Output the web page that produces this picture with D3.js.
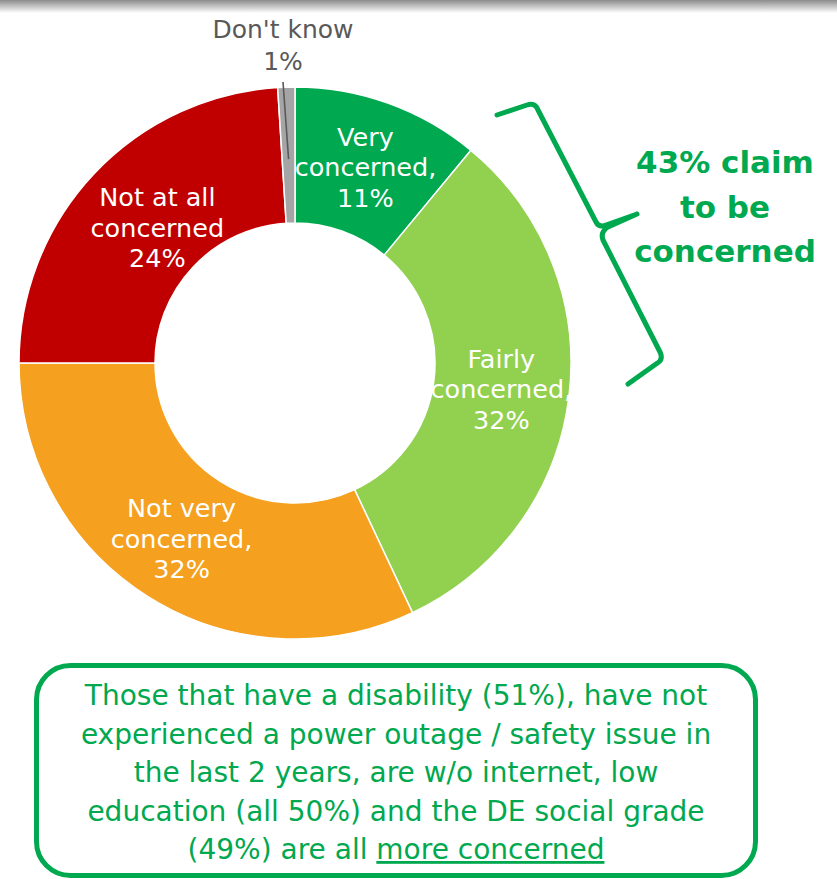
<!DOCTYPE html>
<html>
<head>
<meta charset="utf-8">
<script src="https://cdn.jsdelivr.net/npm/d3@7"></script>
<style>
  html, body { margin: 0; padding: 0; background: #fff; }
  svg { display: block; font-family: "DejaVu Sans", Verdana, sans-serif; }
</style>
</head>
<body>
<svg id="chart" width="837" height="879"></svg>
<script>
// ---- data ----
const categories = ["Very concerned", "Fairly concerned", "Not very concerned", "Not at all concerned", "Don't know"];
const values = [11, 32, 32, 24, 1];
const sliceLabels = [
  ["Very", "concerned,", "11%"],
  ["Fairly", "concerned,", "32%"],
  ["Not very", "concerned,", "32%"],
  ["Not at all", "concerned", "24%"],
  ["Don't know", "1%"]
];
const calloutLines = ["43% claim", "to be", "concerned"];
const noteLines = [
  "Those that have a disability (51%), have not",
  "experienced a power outage / safety issue in",
  "the last 2 years, are w/o internet, low",
  "education (all 50%) and the DE social grade"
];
const noteLastPlain = "(49%) are all ";
const noteLastUnderlined = "more concerned";

// ---- styles / layout ----
const colors = ["#00A84F", "#92D050", "#F5A01E", "#C00000", "#A5A5A5"];
const green = "#00A84F";
const cx = 295, cy = 363, rOuter = 276, rInner = 140;
const labelNudge = [[0, 0], [0, 0], [-2, 0], [14, 7], [0, 0]];

const svg = d3.select("#chart");

// top shadow band
const defs = svg.append("defs");
const grad = defs.append("linearGradient").attr("id", "topShade").attr("x1", 0).attr("y1", 0).attr("x2", 0).attr("y2", 1);
grad.append("stop").attr("offset", 0).attr("stop-color", "#8c8c8c");
grad.append("stop").attr("offset", 1).attr("stop-color", "#ffffff");
svg.append("rect").attr("x", 0).attr("y", 0).attr("width", 837).attr("height", 13).attr("fill", "url(#topShade)");

const pie = d3.pie().sort(null).value(d => d)(values);
const arc = d3.arc().innerRadius(rInner).outerRadius(rOuter);

const g = svg.append("g").attr("transform", `translate(${cx},${cy})`);
g.selectAll("path.slice").data(pie).join("path")
  .attr("class", "slice")
  .attr("d", arc)
  .attr("fill", (d, i) => colors[i])
  .attr("stroke", "#fff")
  .attr("stroke-width", 1.5);

// inside labels (all except the last small slice)
pie.forEach((d, i) => {
  if (i === 4) return;
  const [x, y] = arc.centroid(d);
  const lines = sliceLabels[i];
  const t = g.append("text")
    .attr("text-anchor", "middle")
    .attr("fill", "#fff")
    .attr("font-size", 25.5);
  lines.forEach((ln, k) => {
    t.append("tspan")
      .attr("x", x + labelNudge[i][0])
      .attr("y", y + labelNudge[i][1] + 9 + (k - 1) * 30.5)
      .text(ln);
  });
});

// Don't know label with leader line
{
  const d = pie[4];
  const mid = (d.startAngle + d.endAngle) / 2;
  const inner = d3.pointRadial(mid, rOuter - 72);
  g.append("line")
    .attr("x1", -12).attr("y1", 82 - cy)
    .attr("x2", inner[0]).attr("y2", inner[1])
    .attr("stroke", "#595959").attr("stroke-width", 1.6);
  const t = g.append("text").attr("text-anchor", "middle").attr("fill", "#595959").attr("font-size", 25);
  sliceLabels[4].forEach((ln, k) => {
    t.append("tspan").attr("x", -12).attr("y", 38 - cy + k * 32).text(ln);
  });
}

// curly bracket
svg.append("path")
  .attr("d", "M497,115 L527,105 Q535,102 538,110 L596,222 Q599,228 606,225 L637,214 M637,214 L608,227 Q600,232 603,240 L660,352 Q664,360 656,364 L628,384")
  .attr("fill", "none")
  .attr("stroke", green)
  .attr("stroke-width", 5)
  .attr("stroke-linecap", "round")
  .attr("stroke-linejoin", "round");

const callout = svg.append("text")
  .attr("text-anchor", "middle")
  .attr("fill", green)
  .attr("font-weight", "bold")
  .attr("font-size", 31);
calloutLines.forEach((ln, k) => {
  callout.append("tspan").attr("x", 725).attr("y", 173 + k * 44.5).text(ln);
});

// note box
svg.append("rect")
  .attr("x", 36.5).attr("y", 665.5)
  .attr("width", 719).attr("height", 210)
  .attr("rx", 34).attr("ry", 34)
  .attr("fill", "#fff")
  .attr("stroke", green)
  .attr("stroke-width", 5);

const note = svg.append("text")
  .attr("text-anchor", "middle")
  .attr("fill", green)
  .attr("font-size", 28);
noteLines.forEach((ln, k) => {
  note.append("tspan").attr("x", 396).attr("y", 705 + k * 38.5).text(ln);
});
const last = note.append("tspan").attr("x", 396).attr("y", 705 + 4 * 38.5);
last.append("tspan").text(noteLastPlain);
last.append("tspan").attr("text-decoration", "underline").text(noteLastUnderlined);
</script>
</body>
</html>
